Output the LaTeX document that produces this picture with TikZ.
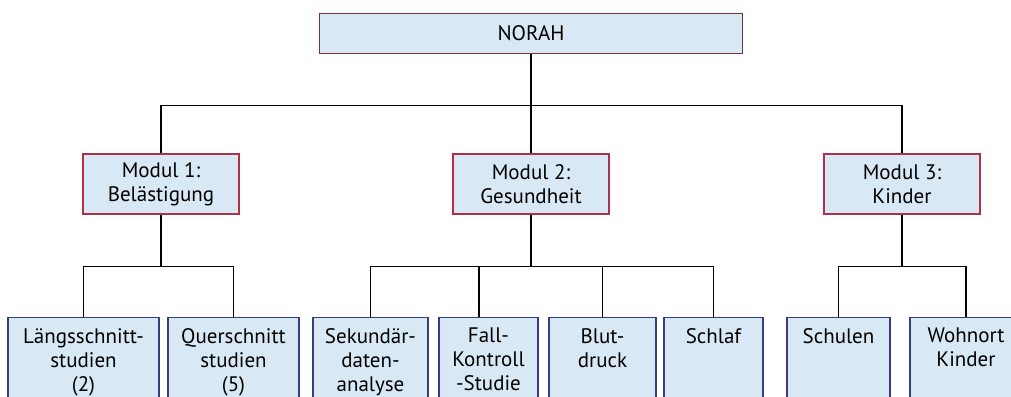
\documentclass[tikz,border=0pt]{standalone}
\usepackage{fontspec}
\setmainfont{PT Sans}
\definecolor{boxfill}{HTML}{D8E9F5}
\definecolor{topedge}{HTML}{7E2E36}
\definecolor{modedge}{HTML}{B0304A}
\definecolor{leafedge}{HTML}{3A3A8C}
\begin{document}
\begin{tikzpicture}[x=1pt,y=-1pt,
  every node/.style={font=\fontsize{21}{24}\selectfont, align=center, inner sep=0pt},
  topbox/.style={draw=topedge, fill=boxfill, line width=1.3pt, minimum width=423, minimum height=40},
  modbox/.style={draw=modedge, fill=boxfill, line width=1.3pt, minimum width=156, minimum height=60},
  leafbox/.style={draw=leafedge, fill=boxfill, line width=1.3pt, minimum height=100, anchor=north},
  leaftext/.style={anchor=north},
  conn/.style={line width=1.3pt, black}]
\useasboundingbox (0,0) rectangle (1011,396);
% top
\node[topbox] (norah) at (531,33.5) {NORAH};
% modules
\node[modbox] (m1) at (161,184) {Modul 1:\\Belästigung};
\node[modbox] (m2) at (531,184) {Modul 2:\\Gesundheit};
\node[modbox] (m3) at (902,184) {Modul 3:\\Kinder};
% leaves
\node[leafbox, minimum width=151] (b1) at (83.5,317) {};
\node[leafbox, minimum width=131] (b2) at (233.5,317) {};
\node[leafbox, minimum width=115] (b3) at (370.5,317) {};
\node[leafbox, minimum width=99] (b4) at (488.5,317) {};
\node[leafbox, minimum width=107] (b5) at (602.5,317) {};
\node[leafbox, minimum width=99] (b6) at (713.5,317) {};
\node[leafbox, minimum width=103] (b7) at (838.5,317) {};
\node[leafbox, minimum width=112] (b8) at (966,317) {};
\node[leaftext] (t1) at ([yshift=-11]b1.north) {Längsschnitt-\\studien\\(2)};
\node[leaftext] (t2) at ([yshift=-11]b2.north) {Querschnitt\\studien\\(5)};
\node[leaftext] (t3) at ([yshift=-11]b3.north) {Sekundär-\\daten-\\analyse};
\node[leaftext] (t4) at ([yshift=-11]b4.north) {Fall-\\Kontroll\\-Studie};
\node[leaftext] (t5) at ([yshift=-11]b5.north) {Blut-\\druck};
\node[leaftext] (t6) at ([yshift=-11]b6.north) {Schlaf};
\node[leaftext] (t7) at ([yshift=-11]b7.north) {Schulen};
\node[leaftext] (t8) at ([yshift=-11]b8.north) {Wohnort\\Kinder};
% connectors
\draw[conn] (norah.south) -- ++(0,51) coordinate (j0);
\draw[conn] (m1.north) |- (j0) -| (m3.north);
\draw[conn] (j0) -- (m2.north);
\draw[conn] (m1.south) -- ++(0,52) coordinate (j1);
\draw[conn] (b1.north) |- (j1) -| (b2.north);
\draw[conn] (m2.south) -- ++(0,52) coordinate (j2);
\coordinate (b4top) at ([xshift=-9.5]b4.north);
\draw[conn] (b3.north) |- (j2) -| (b6.north);
\draw[conn] (b4top) -- (b4top |- j2);
\draw[conn] (b5.north) -- (b5.north |- j2);
\draw[conn] (m3.south) -- ++(0,52) coordinate (j3);
\draw[conn] (b7.north) |- (j3) -| (b8.north);
\end{tikzpicture}
\end{document}
